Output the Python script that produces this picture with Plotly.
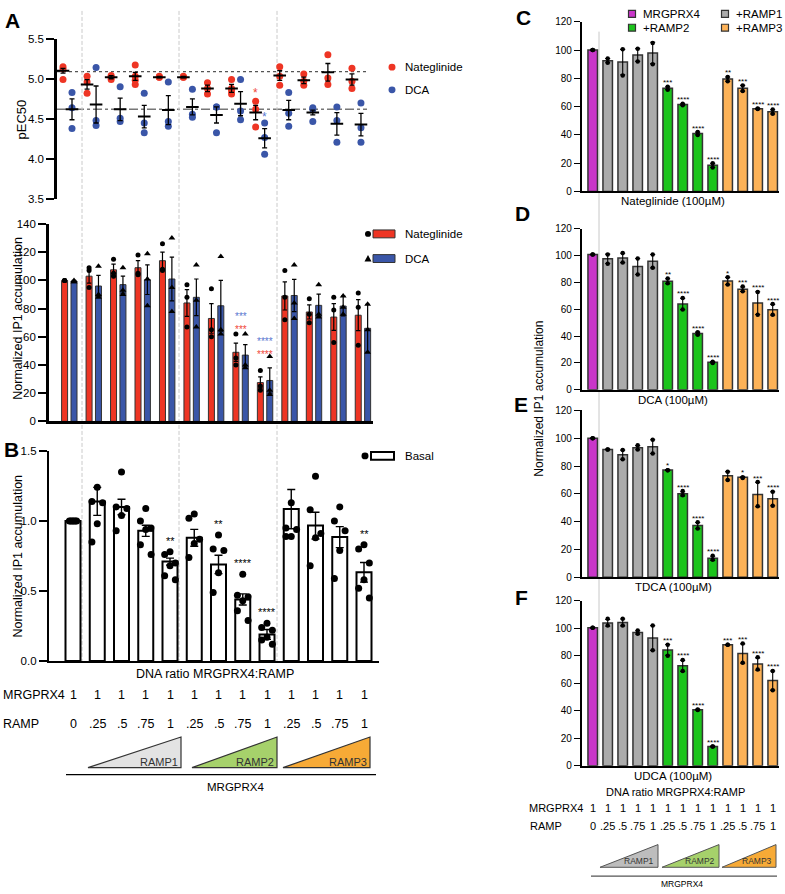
import plotly.graph_objects as go

W, H = 785, 894
FONT = "Liberation Sans, Arial, Helvetica, sans-serif"


def fx(p):
    return p / W


def fy(p):
    return 1 - p / H


# ---------------- DATA ----------------
ramp_labels = ["0", ".25", ".5", ".75", "1", ".25", ".5", ".75", "1", ".25", ".5", ".75", "1"]
mrgprx4_labels = ["1"] * 13
ramp_names = ["RAMP1", "RAMP2", "RAMP3"]

# Panel A (top): pEC50
nat_pec50_pts = [
    [5.15, 5.12, 4.99], [5.03, 4.96, 4.82], [5.04, 5.02, 4.99], [5.17, 5.03, 4.98, 4.93],
    [5.03, 5.02, 5.02], [5.03, 5.02, 5.02], [4.95, 4.88, 4.81], [4.99, 4.88, 4.85, 4.81],
    [4.72, 4.62, 4.40], [5.15, 5.03, 4.92], [5.06, 4.97, 4.92], [5.30, 5.01, 4.93],
    [5.13, 4.97, 4.88]]
nat_pec50_mean = [5.10, 4.93, 5.02, 5.03, 5.02, 5.02, 4.88, 4.88, 4.58, 5.04, 4.98, 5.08, 4.99]
nat_pec50_sem = [0.03, 0.06, 0.02, 0.05, 0.01, 0.01, 0.04, 0.05, 0.09, 0.06, 0.04, 0.11, 0.07]
dca_pec50_pts = [
    [4.83, 4.64, 4.38], [5.14, 4.48, 4.42], [4.90, 4.51, 4.47], [4.82, 4.45, 4.33],
    [4.96, 4.47, 4.41], [4.87, 4.56, 4.52], [4.65, 4.65, 4.33], [4.99, 4.60, 4.49],
    [4.45, 4.27, 4.06], [4.83, 4.57, 4.41], [4.64, 4.62, 4.47], [4.65, 4.48, 4.21],
    [4.70, 4.39, 4.21]]
dca_pec50_mean = [4.62, 4.68, 4.62, 4.53, 4.61, 4.65, 4.55, 4.69, 4.26, 4.61, 4.58, 4.44, 4.43]
dca_pec50_sem = [0.13, 0.23, 0.14, 0.14, 0.18, 0.10, 0.10, 0.15, 0.12, 0.12, 0.03, 0.14, 0.14]
nat_pec50_stars = ["", "", "", "", "", "", "", "", "*", "", "", "", ""]
dca_pec50_stars = ["", "", "", "", "", "", "", "", "*", "", "", "", ""]
nat_pec50_ref = 5.09
dca_pec50_ref = 4.62

# Panel A (bottom): normalized IP1
nat_ip1_mean = [100, 103, 107.5, 109, 114, 84, 73, 49, 27.5, 89, 77.6, 74, 75.3]
nat_ip1_err = [0.5, 5, 4, 5, 6, 9.5, 10.5, 6.5, 4, 10, 5, 9.5, 11]
nat_ip1_pts = [
    [100, 100, 100], [109, 107, 95], [115, 105, 103], [118, 105, 104], [126, 108, 107],
    [97, 88, 67], [94, 65, 60], [62, 45, 40], [36, 25, 22], [107, 88, 72], [87, 76, 70],
    [88, 79, 56], [91, 81, 54]]
dca_ip1_mean = [99.5, 96, 97, 100.5, 101, 88, 82, 47, 29, 89.3, 82.3, 81.8, 66]
dca_ip1_err = [0.5, 7.5, 6, 10.5, 15.5, 13, 18, 7.5, 9, 11.5, 8, 7, 17]
dca_ip1_pts = [
    [100, 99, 99], [110, 90, 88], [109, 93, 90], [119, 101, 82], [130, 95, 78],
    [111, 86, 67], [117, 65, 62], [62, 40, 38], [46, 22, 19], [111, 84, 73], [97, 76, 74],
    [89, 81, 76], [83, 65, 49]]
nat_ip1_stars = ["", "", "", "", "", "", "", "***", "****", "", "", "", ""]
dca_ip1_stars = ["", "", "", "", "", "", "", "***", "****", "", "", "", ""]

# Panel B: basal
basal_mean = [1.0, 1.14, 1.10, 0.93, 0.71, 0.88, 0.69, 0.44, 0.19, 1.085, 0.967, 0.885, 0.634]
basal_err = [0.005, 0.10, 0.055, 0.04, 0.025, 0.06, 0.066, 0.04, 0.035, 0.14, 0.095, 0.075, 0.07]
basal_pts = [
    [1, 1, 1, 1, 1, 1], [1.24, 1.14, 1.13, 0.98, 0.85], [1.35, 1.10, 1.09, 1.04, 0.93],
    [1.09, 1.0, 0.95, 0.94, 0.83, 0.76], [0.78, 0.76, 0.70, 0.68, 0.61, 0.58],
    [1.05, 1.02, 0.87, 0.84, 0.74], [0.90, 0.80, 0.79, 0.63, 0.49],
    [0.62, 0.47, 0.46, 0.43, 0.36, 0.29], [0.27, 0.24, 0.22, 0.17, 0.15, 0.12],
    [1.13, 0.95, 0.94, 0.89, 0.89], [1.32, 1.08, 0.91, 0.88, 0.68],
    [1.10, 1.0, 0.93, 0.79, 0.59], [0.83, 0.80, 0.70, 0.58, 0.52, 0.45]]
basal_stars = ["", "", "", "", "**", "", "**", "****", "****", "", "", "", "**"]

# Panels C-F
right_groups = ["MRGPRX4", "+RAMP1", "+RAMP2", "+RAMP3"]
right_group_of_bar = [0, 1, 1, 1, 1, 2, 2, 2, 2, 3, 3, 3, 3]

nateglinide_mean = [100, 92.5, 91.5, 96.5, 98, 73, 61.5, 41, 18.5, 79.5, 73, 58.5, 56.3]
nateglinide_err = [0.5, 1.5, 9, 4.5, 7.5, 1, 0.5, 1, 1.5, 1.5, 2, 0.3, 1.5]
nateglinide_pts = [[100, 100], [94, 91], [100.5, 82], [101, 92], [105, 90], [74, 72], [62, 61],
                   [42, 40], [20, 17], [81, 78], [75, 71], [58.7, 58.3], [58, 55]]
nateglinide_stars = ["", "", "", "", "", "***", "****", "****", "****", "**", "***", "****", "****"]

dca_mean = [101, 97.7, 98.4, 92, 96, 81, 64, 42, 20.5, 81.2, 75, 64.7, 59.7]
dca_err = [0.3, 3.5, 3.5, 6, 5, 1.8, 4.2, 1, 0.5, 2.7, 1.7, 8.5, 4]
dca_pts = [[101, 101], [101, 94], [102, 95], [98, 86], [101, 91], [83, 79.5], [68.5, 60],
           [43, 41], [21, 20], [84, 78.5], [77, 73.5], [73, 56], [64, 56]]
dca_stars = ["", "", "", "", "", "**", "****", "****", "****", "*", "***", "****", "****"]

tdca_mean = [100, 92, 88.2, 93.2, 94, 77.2, 60, 37.2, 13.6, 73, 72, 59.5, 56.5]
tdca_err = [0.3, 0.3, 3.3, 1.5, 5, 0.3, 1.5, 2.2, 1.5, 3, 0.3, 8.8, 5]
tdca_pts = [[100, 100], [92, 92], [91.5, 85], [95, 92], [99, 89], [77, 77], [62, 59],
            [39.5, 35], [15.5, 12.5], [76, 70], [72, 71.5], [68.5, 51], [61.5, 51.5]]
tdca_stars = ["", "", "", "", "", "*", "****", "****", "****", "", "*", "***", "****"]

udca_mean = [100.5, 104, 104.3, 97, 93, 84.3, 72.7, 40.8, 14, 88, 81.7, 74, 62]
udca_err = [0.3, 2.5, 2.5, 1.3, 9, 4, 4, 0.3, 0.3, 0.3, 7, 4.5, 7]
udca_pts = [[100.5, 100.5], [107, 102], [107, 102], [98.5, 96], [102, 84], [88, 80], [77, 69],
            [41, 40.5], [14, 14], [88, 88], [89, 75], [79, 70], [69, 55]]
udca_stars = ["", "", "", "", "", "***", "****", "****", "****", "***", "***", "****", "****"]

right_titles = ["Nateglinide (100µM)", "DCA (100µM)", "TDCA (100µM)", "UDCA (100µM)"]

# ---------------- STYLE ----------------
RED = "#EE3524"
BLUE = "#3A56A8"
STAR_RED = "#F0483A"
STAR_BLUE = "#5A78CF"
PURPLE = "#C936C9"
GRAY = "#ABABAB"
GREEN = "#1CC41C"
ORANGE = "#FDB257"
right_colors = [PURPLE, GRAY, GREEN, ORANGE]
OUTLINE = "#333333"

n = len(ramp_labels)
idx = list(range(n))

fig = go.Figure()
annotations = []
shapes = []


def ann(text, x, y, size=12, xref="paper", yref="paper", xanchor="center", yanchor="middle",
        color="black", angle=0, bold=False, xshift=0, yshift=0):
    annotations.append(dict(
        text=("<b>%s</b>" % text) if bold else text, x=x, y=y, xref=xref, yref=yref,
        xanchor=xanchor, yanchor=yanchor, showarrow=False, textangle=angle,
        font=dict(family=FONT, size=size, color=color), xshift=xshift, yshift=yshift))


def rng(px0, px1, c0, step):
    return [(px0 - c0) / step, (px1 - c0) / step]


# ---------- axis geometry (pixels) ----------
A1_X = (57, 373); A1_C0, A1_STEP = 67.5, 24.08; A1_OFF = 4.5 / 24.08
A2_X = (49, 373); A2_C0, A2_STEP = 69.3, 24.47; A2_OFF = 4.7 / 24.47; A2_W = 6 / 24.47
B_X = (49, 379); B_C0, B_STEP = 73, 24.25; B_W = 15 / 24.25
R_X = (582, 779); R_C0, R_STEP = 592.7, 15.0; R_W = 9.5 / 15.0
right_y = [(188, 16), (389, 226), (579, 410), (770, 603)]

layout_axes = {}

# ---------- Panel A top ----------
layout_axes["xaxis"] = dict(domain=[fx(A1_X[0]), fx(A1_X[1])], range=rng(*A1_X, A1_C0, A1_STEP),
                            visible=False, anchor="y")
layout_axes["yaxis"] = dict(domain=[fy(196), fy(33)], range=[3.5, 5.5], anchor="x",
                            tickvals=[3.5, 4.0, 4.5, 5.0, 5.5],
                            ticktext=["3.5", "4.0", "4.5", "5.0", "5.5"],
                            showline=True, linewidth=2.6, linecolor="black", ticks="outside",
                            ticklen=8, tickwidth=1.6, tickcolor="black", showgrid=False,
                            zeroline=False, tickfont=dict(family=FONT, size=11.5))

for pts_list, off, col in [(nat_pec50_pts, -A1_OFF, RED), (dca_pec50_pts, A1_OFF, BLUE)]:
    xs, ys = [], []
    for i, pts in enumerate(pts_list):
        xs += [i + off] * len(pts)
        ys += pts
    fig.add_trace(go.Scatter(x=xs, y=ys, mode="markers", xaxis="x", yaxis="y",
                             marker=dict(color=col, size=7, line=dict(width=0))))
for mean, sem, off in [(nat_pec50_mean, nat_pec50_sem, -A1_OFF), (dca_pec50_mean, dca_pec50_sem, A1_OFF)]:
    fig.add_trace(go.Scatter(x=[i + off for i in idx], y=mean, mode="markers", xaxis="x", yaxis="y",
                             marker=dict(symbol="line-ew", size=9, color="black",
                                         line=dict(width=2, color="black")),
                             error_y=dict(type="data", array=sem, color="black", thickness=1.3, width=2.5)))
for stars, pts_list, off, col, sh in [(nat_pec50_stars, nat_pec50_pts, -A1_OFF, STAR_RED, 8),
                                      (dca_pec50_stars, dca_pec50_pts, A1_OFF, STAR_BLUE, 6)]:
    for i, s in enumerate(stars):
        if s:
            ann(s, i + off, max(pts_list[i]), size=12, xref="x", yref="y", color=col, yshift=sh)

for val, dash, col, wdt in [(nat_pec50_ref, "dot", "#555555", 1.2), (dca_pec50_ref, "dashdot", "#777777", 1.6)]:
    shapes.append(dict(type="line", xref="paper", yref="y", x0=fx(57), x1=fx(367), y0=val, y1=val,
                       line=dict(color=col, width=wdt, dash=dash), layer="below"))

# legend A top
for name, col, py in [("Nateglinide", RED, 62), ("DCA", BLUE, 85)]:
    shapes.append(dict(type="circle", xref="paper", yref="paper", x0=fx(388.5), x1=fx(395.5),
                       y0=fy(py + 3.5), y1=fy(py - 3.5), fillcolor=col, line=dict(width=0)))
    ann(name, fx(403), fy(py), size=11.5, xanchor="left")

# ---------- Panel A bottom ----------
layout_axes["xaxis2"] = dict(domain=[fx(A2_X[0]), fx(A2_X[1])], range=rng(*A2_X, A2_C0, A2_STEP),
                             anchor="y2", showline=True, linewidth=2.6, linecolor="black",
                             showticklabels=False, ticks="", showgrid=False, zeroline=False)
layout_axes["yaxis2"] = dict(domain=[fy(421), fy(221)], range=[0, 140], dtick=20, anchor="x2",
                             showline=True, linewidth=2.6, linecolor="black", ticks="outside",
                             ticklen=8, tickwidth=1.6, tickcolor="black", showgrid=False,
                             zeroline=False, tickfont=dict(family=FONT, size=11.5))
for mean, err, pts_list, off, col, sym in [
        (nat_ip1_mean, nat_ip1_err, nat_ip1_pts, -A2_OFF, RED, "circle"),
        (dca_ip1_mean, dca_ip1_err, dca_ip1_pts, A2_OFF, BLUE, "triangle-up")]:
    fig.add_trace(go.Bar(x=[i + off for i in idx], y=mean, width=A2_W, xaxis="x2", yaxis="y2",
                         marker=dict(color=col, line=dict(color=OUTLINE, width=1)),
                         error_y=dict(type="data", array=err, color="black", thickness=1.2, width=2.2)))
    xs, ys = [], []
    for i, pts in enumerate(pts_list):
        xs += [i + off] * len(pts)
        ys += pts
    fig.add_trace(go.Scatter(x=xs, y=ys, mode="markers", xaxis="x2", yaxis="y2",
                             marker=dict(color="black", size=5 if sym == "circle" else 6, symbol=sym)))
for i in idx:
    top = max(nat_ip1_mean[i] + nat_ip1_err[i], dca_ip1_mean[i] + dca_ip1_err[i])
    if nat_ip1_stars[i] or dca_ip1_stars[i]:
        txt = "<span style='color:%s'>%s</span><br><span style='color:%s'>%s</span>" % (
            STAR_BLUE, dca_ip1_stars[i], STAR_RED, nat_ip1_stars[i])
        ann(txt, i, top, size=10, xref="x2", yref="y2", yanchor="bottom", yshift=6)

# legend A bottom
shapes.append(dict(type="circle", xref="paper", yref="paper", x0=fx(365), x1=fx(371),
                   y0=fy(234), y1=fy(228), fillcolor="black", line=dict(width=0)))
shapes.append(dict(type="rect", xref="paper", yref="paper", x0=fx(373), x1=fx(395),
                   y0=fy(235), y1=fy(227), fillcolor=RED, line=dict(color=OUTLINE, width=1)))
ann("Nateglinide", fx(403), fy(231), size=11.5, xanchor="left")
shapes.append(dict(type="path", xref="paper", yref="paper",
                   path="M %f,%f L %f,%f L %f,%f Z" % (fx(364.5), fy(259), fx(371.5), fy(259), fx(368), fy(252.5)),
                   fillcolor="black", line=dict(width=0)))
shapes.append(dict(type="rect", xref="paper", yref="paper", x0=fx(373), x1=fx(395),
                   y0=fy(260), y1=fy(252), fillcolor=BLUE, line=dict(color=OUTLINE, width=1)))
ann("DCA", fx(403), fy(256), size=11.5, xanchor="left")

# ---------- Panel B ----------
layout_axes["xaxis3"] = dict(domain=[fx(B_X[0]), fx(B_X[1])], range=rng(*B_X, B_C0, B_STEP),
                             anchor="y3", showline=True, linewidth=2.2, linecolor="black",
                             showticklabels=False, ticks="", showgrid=False, zeroline=False)
layout_axes["yaxis3"] = dict(domain=[fy(664), fy(451)], range=[0, 1.5], anchor="x3",
                             tickvals=[0, 0.5, 1.0, 1.5], ticktext=["0.0", "0.5", "1.0", "1.5"],
                             showline=True, linewidth=2.2, linecolor="black", ticks="outside",
                             ticklen=8, tickwidth=1.6, tickcolor="black", showgrid=False,
                             zeroline=False, tickfont=dict(family=FONT, size=11.5))
fig.add_trace(go.Bar(x=idx, y=basal_mean, width=B_W, xaxis="x3", yaxis="y3",
                     marker=dict(color="white", line=dict(color="black", width=2)),
                     error_y=dict(type="data", array=basal_err, color="black", thickness=1.4, width=4)))
jitter = [0.0, -0.22, 0.22]
xs, ys = [], []
for i, pts in enumerate(basal_pts):
    for k, v in enumerate(sorted(pts, reverse=True)):
        xs.append(i + (jitter[k % 3] if i > 0 else (k - 2.5) * 0.06))
        ys.append(v)
fig.add_trace(go.Scatter(x=xs, y=ys, mode="markers", xaxis="x3", yaxis="y3",
                         marker=dict(color="black", size=7)))
for i, s in enumerate(basal_stars):
    if s:
        top = max(max(basal_pts[i]), basal_mean[i] + basal_err[i])
        ann(s, i, top, size=11, xref="x3", yref="y3", yshift=11)

# legend B
shapes.append(dict(type="circle", xref="paper", yref="paper", x0=fx(361.5), x1=fx(368.5),
                   y0=fy(459.5), y1=fy(452.5), fillcolor="black", line=dict(width=0)))
shapes.append(dict(type="rect", xref="paper", yref="paper", x0=fx(371), x1=fx(394),
                   y0=fy(460), y1=fy(452), fillcolor="white", line=dict(color="black", width=2)))
ann("Basal", fx(403), fy(456), size=11.5, xanchor="left")

# labels under B
ann("DNA ratio MRGPRX4:RAMP", fx(215), fy(677), size=12.5)
ann("MRGPRX4", fx(1), fy(698), size=12.5, xanchor="left")
ann("RAMP", fx(1), fy(728), size=12.5, xanchor="left")
for i in idx:
    ann(mrgprx4_labels[i], i, fy(698), size=12.5, xref="x3")
    ann(ramp_labels[i], i, fy(728), size=12.5, xref="x3")

tri_B = [(88, 181), (192, 277), (283, 370)]
tri_fill_B = ["#E3E3E3", "#A6D16B", "#F7AA36"]
for (x0, x1), fc, name in zip(tri_B, tri_fill_B, ramp_names):
    shapes.append(dict(type="path", xref="paper", yref="paper",
                       path="M %f,%f L %f,%f L %f,%f Z" % (fx(x0), fy(772), fx(x1), fy(772), fx(x1), fy(741)),
                       fillcolor=fc, line=dict(color=OUTLINE, width=1.2)))
    ann(name, fx(x1 - 1.5), fy(766), size=11, xanchor="right", color="#333333")
shapes.append(dict(type="line", xref="paper", yref="paper", x0=fx(66), x1=fx(376), y0=fy(779), y1=fy(779),
                   line=dict(color="black", width=1.3)))
ann("MRGPRX4", fx(235), fy(792), size=11.5)

# vertical dashed separators (left)
for xp in [82, 179, 277]:
    shapes.append(dict(type="line", xref="paper", yref="paper", x0=fx(xp), x1=fx(xp), y0=fy(5), y1=fy(664),
                       line=dict(color="#CACACA", width=1, dash="4px,2px"), layer="below"))

# ---------- Panels C-F ----------
right_means = [nateglinide_mean, dca_mean, tdca_mean, udca_mean]
right_errs = [nateglinide_err, dca_err, tdca_err, udca_err]
right_pts = [nateglinide_pts, dca_pts, tdca_pts, udca_pts]
right_stars = [nateglinide_stars, dca_stars, tdca_stars, udca_stars]
bar_colors = [right_colors[g] for g in right_group_of_bar]

for p in range(4):
    k = p + 4
    xa, ya = "x%d" % k, "y%d" % k
    yb, yt = right_y[p]
    layout_axes["xaxis%d" % k] = dict(domain=[fx(R_X[0]), fx(R_X[1])], range=rng(*R_X, R_C0, R_STEP),
                                      anchor=ya, showline=True, linewidth=2.2, linecolor="black",
                                      showticklabels=False, ticks="", showgrid=False, zeroline=False)
    layout_axes["yaxis%d" % k] = dict(domain=[fy(yb), fy(yt)], range=[0, 120], dtick=20, anchor=xa,
                                      showline=True, linewidth=2.2, linecolor="black", ticks="outside",
                                      ticklen=6, tickwidth=1.3, tickcolor="black", showgrid=False,
                                      zeroline=False, tickfont=dict(family=FONT, size=10))
    fig.add_trace(go.Bar(x=idx, y=right_means[p], width=R_W, xaxis=xa, yaxis=ya,
                         marker=dict(color=bar_colors, line=dict(color=OUTLINE, width=1.5)),
                         error_y=dict(type="data", array=right_errs[p], color="black", thickness=1.1, width=2.5)))
    xs, ys = [], []
    for i, pts in enumerate(right_pts[p]):
        xs += [i] * len(pts)
        ys += pts
    fig.add_trace(go.Scatter(x=xs, y=ys, mode="markers", xaxis=xa, yaxis=ya,
                             marker=dict(color="black", size=4.5)))
    for i, s in enumerate(right_stars[p]):
        if s:
            top = max(max(right_pts[p][i]), right_means[p][i] + right_errs[p][i])
            ann(s, i, top, size=8, xref=xa, yref=ya, yshift=4)
    ann(right_titles[p], fx(673), fy(yb + 10), size=11.5)

letters = [("A", 12, 15), ("B", 11, 450), ("C", 523, 12), ("D", 522, 210), ("E", 521, 404), ("F", 521, 600)]
for t, x, y in letters:
    ann(t, fx(x), fy(y), size=21, bold=True)

# legend C (two columns)
leg_items = [(0, 632, 8), (1, 725, 8), (2, 632, 22), (3, 725, 22)]
for g, xp, yp in leg_items:
    shapes.append(dict(type="rect", xref="paper", yref="paper", x0=fx(xp - 3.5), x1=fx(xp + 3.5),
                       y0=fy(yp + 3.5), y1=fy(yp - 3.5), fillcolor=right_colors[g],
                       line=dict(color=OUTLINE, width=1.2)))
    ann(right_groups[g], fx(xp + 9), fy(yp), size=11.5, xanchor="left")

# right vertical separator
shapes.append(dict(type="line", xref="paper", yref="paper", x0=fx(599), x1=fx(599), y0=fy(26), y1=fy(770),
                   line=dict(color="#C8C8C8", width=1), layer="below"))

# y titles
ann("pEC50", fx(21), fy(115), size=13, angle=-90)
ann("Normalized IP1 accumulation", fx(18), fy(317), size=12.5, angle=-90)
ann("Normalized IP1 accumulation", fx(18), fy(558), size=12.5, angle=-90)
ann("Normalized IP1 accumulation", fx(539), fy(398), size=12, angle=-90)

# labels under F
ann("DNA ratio MRGPRX4:RAMP", fx(675), fy(797), size=11)
ann("MRGPRX4", fx(527), fy(813), size=11, xanchor="left")
ann("RAMP", fx(528), fy(831), size=11, xanchor="left")
for i in idx:
    ann(mrgprx4_labels[i], i, fy(813), size=11, xref="x7")
    ann(ramp_labels[i], i, fy(831), size=11, xref="x7")
tri_F = [(600, 658), (662, 719), (722, 776)]
tri_fill_F = ["#BDBDBD", "#A6D16B", "#F7AA36"]
for (x0, x1), fc, name in zip(tri_F, tri_fill_F, ramp_names):
    shapes.append(dict(type="path", xref="paper", yref="paper",
                       path="M %f,%f L %f,%f L %f,%f Z" % (fx(x0), fy(873), fx(x1), fy(873), fx(x1), fy(850)),
                       fillcolor=fc, line=dict(color="#555555", width=1)))
    ann(name, fx(x1 - 2), fy(866.5), size=8.5, xanchor="right", color="#333333")
shapes.append(dict(type="line", xref="paper", yref="paper", x0=fx(591), x1=fx(777), y0=fy(882), y1=fy(882),
                   line=dict(color="#555555", width=1.2)))
ann("MRGPRX4", fx(682), fy(890), size=8.5)

fig.update_layout(
    width=W, height=H, margin=dict(l=0, r=0, t=0, b=0),
    paper_bgcolor="white", plot_bgcolor="rgba(0,0,0,0)",
    showlegend=False, barmode="overlay",
    font=dict(family=FONT, color="black"),
    annotations=annotations, shapes=shapes, **layout_axes)

fig.write_html("out.html", config={"displayModeBar": False},
               post_script="document.body.style.margin='0px';")
